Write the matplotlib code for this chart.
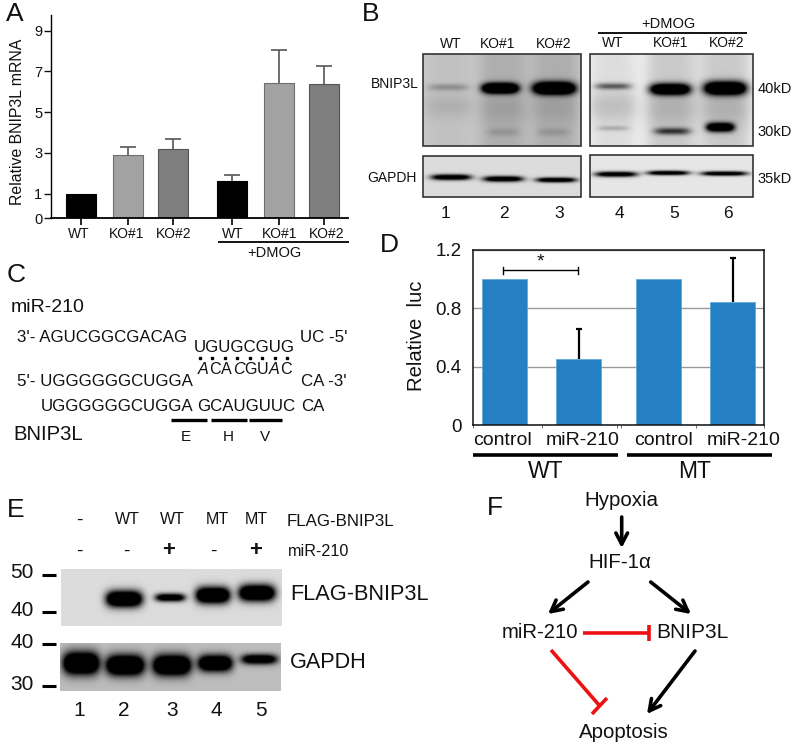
import numpy as np
import matplotlib
matplotlib.use("Agg")
import matplotlib.pyplot as plt
from matplotlib.patches import Rectangle

plt.rcParams['font.family'] = ['Liberation Sans', 'DejaVu Sans']

W, H = 796, 746
INK = '#111111'

# panel A data
a_labels = ['WT', 'KO#1', 'KO#2', 'WT', 'KO#1', 'KO#2']
a_values = [1.0, 2.9, 3.19, 1.64, 6.42, 6.37]
a_errors = [0, 0.39, 0.49, 0.28, 1.63, 0.91]
a_colors = ['#000000', '#a2a2a2', '#7e7e7e', '#000000', '#a2a2a2', '#7e7e7e']
a_ticks = [0, 1, 3, 5, 7, 9]

# panel D data
d_labels = ['control', 'miR-210', 'control', 'miR-210']
d_values = [1.0, 0.45, 1.0, 0.845]
d_errors = [0, 0.205, 0, 0.30]
d_ticks = [0, 0.4, 0.8, 1.2]
d_ticklabels = ['0', '0.4', '0.8', '1.2']

# blot bands: lane centre, half width, band centre, half height, darkness
b_top_left = [(448, 20, 87, 3.5, 0.2), (500, 18, 88, 5, 1.6), (554, 21, 88, 6, 1.6),
              (503, 16, 132, 4, 0.1), (553, 16, 132, 4, 0.1),
              (448, 25, 106, 12, 0.07), (503, 25, 108, 14, 0.06), (555, 25, 108, 14, 0.06)]
b_top_right = [(613, 18, 86, 3.2, 0.5), (670, 20, 89, 5.5, 1.5), (725, 21, 88, 6.5, 1.6),
               (613, 16, 128, 2.5, 0.18), (672, 18, 131, 3.5, 0.6), (720, 14, 127, 4.5, 1.3),
               (613, 25, 106, 16, 0.12), (671, 27, 108, 18, 0.1), (725, 27, 108, 18, 0.1)]
b_gapdh_left = [(451, 20, 177, 2.8, 1.2), (503, 20, 178.7, 2.8, 1.2), (556, 20, 179.7, 2.4, 1.2)]
b_gapdh_right = [(616, 21, 174, 2.6, 1.2), (668, 21, 172.7, 2.2, 1.2), (724, 23, 173.3, 2.2, 1.2)]
e_flag = [(124, 18, 598.7, 8, 1.6), (170, 15, 597.3, 4, 1.2), (212.7, 17, 595, 8, 1.6), (256.7, 18, 592.7, 8, 1.6)]
e_gapdh = [(81, 18, 663, 11, 1.5), (125, 19, 665, 10, 1.5), (171.7, 19, 665, 10, 1.5),
           (215, 17, 663, 8, 1.4), (259, 18, 659, 5, 1.1)]

fig = plt.figure(figsize=(W / 100, H / 100), dpi=100, facecolor='white')


def px_axes(left, top, right, bottom):
    return fig.add_axes([left / W, 1 - bottom / H, (right - left) / W, (bottom - top) / H])


# whole figure layer in pixel coordinates, for labels and the blots
ov = fig.add_axes([0, 0, 1, 1], zorder=5)
ov.set_xlim(0, W)
ov.set_ylim(H, 0)
ov.axis('off')


def t(x, y, s, size=10, ha='center', **kw):
    ov.text(x, y, s, fontsize=size, ha=ha, va='center', color=INK, **kw)


def hline(x0, x1, y, lw=1.5, color='black'):
    ov.plot([x0, x1], [y, y], color=color, lw=lw, solid_capstyle='butt')


def blot(x0, y0, x1, y1, bg, bands, smear=(), border=None):
    xx, yy = np.meshgrid(np.arange(x0, x1, 0.5), np.arange(y0, y1, 0.5))
    img = np.full(xx.shape, bg, dtype=float)
    for cx, hw, d in smear:
        img -= d * np.exp(-((xx - cx) / hw) ** 4)
    for cx, hw, cy, hh, d in bands:
        img -= d * np.exp(-((xx - cx) / hw) ** 4 - ((yy - cy) / hh) ** 2)
    ov.imshow(np.clip(img, 0, 1), cmap='gray', vmin=0, vmax=1, extent=(x0, x1, y1, y0),
              aspect='auto', interpolation='bilinear')
    if border:
        ov.add_patch(Rectangle((x0, y0), x1 - x0, y1 - y0, fill=False, ec=border, lw=1.2))


def arrow(x0, y0, x1, y1):
    ov.annotate('', xy=(x1, y1), xytext=(x0, y0),
                arrowprops=dict(arrowstyle='->,head_length=0.8,head_width=0.42', lw=2.6, color='black',
                                shrinkA=0, shrinkB=0))


def top_error(ax, x, v, e, color, lw, cap):
    # upper half only, no cap sitting on the bar
    ax.plot([x, x], [v, v + e], color=color, lw=lw, solid_capstyle='butt')
    ax.plot([x], [v + e], marker='_', ms=cap, mew=lw, color=color)


# panel letters
for x, y, s in [(15, 14, 'A'), (371, 14, 'B'), (16, 275, 'C'), (389, 245, 'D'), (16, 510, 'E'), (495, 508, 'F')]:
    t(x, y, s, 19)

# ---- A
ax = px_axes(50.5, 15, 348, 218)
ax.set_yscale('function', functions=(lambda v: np.interp(v, [0, 1, 12], [0, 1.19, 12.19]),
                                     lambda v: np.interp(v, [0, 1.19, 12.19], [0, 1, 12])))
a_x = [81, 127.7, 172.7, 232, 278.7, 324]
ax.bar(a_x, a_values, width=30, color=a_colors, edgecolor=['black', '#6e6e6e', '#555555'] * 2, lw=0.8)
for i in range(len(a_x)):
    if a_errors[i] > 0:
        top_error(ax, a_x[i], a_values[i], a_errors[i], '#555555', 1.2, 11)
ax.set_xlim(50.5, 348)
ax.set_ylim(0, 9.77)
ax.set_yticks(a_ticks)
ax.set_xticks(a_x)
ax.set_xticklabels([])
ax.tick_params(axis='y', labelsize=10.5, length=5, width=1, pad=1, colors=INK)
ax.tick_params(axis='x', length=5, width=1.2)
ax.spines['top'].set_visible(False)
ax.spines['right'].set_visible(False)
ax.spines['left'].set_linewidth(1)
ax.spines['bottom'].set_linewidth(1.3)
for x, s in zip([79, 127, 173.7, 233, 280, 327], a_labels):
    t(x, 233.5, s, 10)
t(18, 122, 'Relative BNIP3L mRNA', 11.4, rotation=90)
hline(218, 349, 241.7, 1.3)
t(274, 253, '+DMOG', 10.5)

# ---- B
blot(423, 54, 581, 146, 0.80, b_top_left,
     [(448, 26, 0.04), (503, 25, 0.12), (555, 25, 0.12)], border='#333333')
blot(590, 54, 753, 146, 0.95, b_top_right,
     [(613, 24, 0.08), (671, 26, 0.16), (725, 26, 0.16)], border='#333333')
blot(423, 156, 581, 197, 0.86, b_gapdh_left, border='#333333')
blot(590, 155, 753, 197, 0.90, b_gapdh_right, border='#333333')
for x, s in zip([451, 497.7, 554], a_labels):
    t(x, 44, s, 10)
for x, s in zip([613, 670.7, 727], a_labels):
    t(x, 43, s, 10)
t(668, 24, '+DMOG', 10.5)
hline(597.7, 746.7, 33, 1.3)
t(419, 84, 'BNIP3L', 10, ha='right')
t(417, 178, 'GAPDH', 10, ha='right')
t(757.7, 89, '40kD', 10.5, ha='left')
t(757.7, 132, '30kD', 10.5, ha='left')
t(757, 179, '35kD', 10.5, ha='left')
for x, s in zip([446, 504, 559, 619, 674, 728], '123456'):
    t(x, 213, s, 12.5)

# ---- C
t(10.7, 308, 'miR-210', 14, ha='left')
t(17, 337, "3'- AGUCGGCGACAG", 12.2, ha='left')
t(300, 337, "UC -5'", 12.2, ha='left')
t(194, 347, 'UGUGCGUG', 12.2, ha='left')
ov.plot(np.linspace(200, 287, 8), [358] * 8, ls='none', marker='s', ms=1.9, color='black')
for x, s, st in zip(np.linspace(203, 286, 8), 'ACACGUAC', ['italic', 'normal', 'normal', 'italic', 'normal', 'normal', 'italic', 'normal']):
    t(x, 370, s, 11.6, style=st)
t(17, 381, "5'- UGGGGGGCUGGA", 12.2, ha='left')
t(301, 381, "CA -3'", 12.2, ha='left')
t(40.7, 406.7, 'UGGGGGGCUGGA', 12.2, ha='left')
t(197, 406.7, 'GCAUGUUC', 12.2, ha='left')
t(301, 406.7, 'CA', 12.2, ha='left')
for x0, x1, xt, s in [(171, 207, 186, 'E'), (211, 247, 228, 'H'), (249, 282, 265, 'V')]:
    hline(x0, x1, 420, 2.4)
    t(xt, 437, s, 11)
t(13, 435, 'BNIP3L', 14.6, ha='left')

# ---- D
ax = px_axes(472.7, 249.5, 764.3, 425.3)
d_x = [504, 578.7, 658, 732.7]
ax.yaxis.grid(True, color='#999999', lw=1)
ax.set_axisbelow(True)
ax.bar(d_x, d_values, width=45, color='#2580c3', edgecolor='#5aa5da', lw=0.5)
for i in range(len(d_x)):
    if d_errors[i] > 0:
        top_error(ax, d_x[i], d_values[i], d_errors[i], 'black', 1.6, 5)
ax.set_xlim(472.7, 764.3)
ax.set_ylim(0, 1.2)
ax.set_yticks(d_ticks)
ax.set_yticklabels(d_ticklabels)
ax.set_xticks([472.7, 541.7, 616.7, 620.7, 695.7, 764.3])
ax.set_xticklabels([])
ax.tick_params(axis='y', labelsize=13.5, length=0, pad=8, colors=INK)
ax.tick_params(axis='x', length=2.5, width=0.6, color='#555555')
for sp in ax.spines.values():
    sp.set_linewidth(1.1)
    sp.set_color('#111111')
for x, s in zip([502.7, 583, 663.7, 744], d_labels):
    t(x, 440.7, s, 14)
hline(473, 618, 455, 2.6)
hline(627, 771.7, 455, 2.6)
t(546, 471, 'WT', 16.5)
t(695, 471, 'MT', 16.5)
t(416.7, 336, 'Relative  luc', 14.6, rotation=90)
hline(503.3, 578, 270, 1)
for x in [503.3, 578]:
    ov.plot([x, x], [266.5, 273.5], color='black', lw=1)
t(540, 262, '*', 14)

# ---- E
blot(61, 569, 282, 626, 0.86, e_flag, border=None)
blot(60, 643, 281, 691, 0.74, e_gapdh, border=None)
for x, s in zip([79, 127, 172, 217, 256], ['-', 'WT', 'WT', 'MT', 'MT']):
    t(x, 520, s, 14 if s == '-' else 11.5)
t(287, 521.7, 'FLAG-BNIP3L', 12.2, ha='left')
for x, s in zip([79, 126.7, 169, 213, 256], ['-', '-', '+', '-', '+']):
    t(x, 551, s, 16 if s == '+' else 14, weight='bold' if s == '+' else 'normal')
t(288, 551.7, 'miR-210', 11.6, ha='left')
for y, yt, s in [(575, 573, '50'), (611.7, 610.5, '40'), (644, 642.7, '40'), (686, 685, '30')]:
    t(34, yt, s, 15, ha='right')
    hline(41.7, 55.7, y, 2.2)
t(290.7, 595, 'FLAG-BNIP3L', 15.7, ha='left')
t(290, 662.7, 'GAPDH', 15.6, ha='left')
for x, s in zip([79, 124, 172, 216.7, 260.7], '12345'):
    t(x, 710.7, s, 15)

# ---- F
t(621, 501, 'Hypoxia', 14.8)
t(620, 563, 'HIF-1\u03b1', 14.8)
t(502, 633, 'miR-210', 14.6, ha='left')
t(656, 633, 'BNIP3L', 15, ha='left')
t(624, 733, 'Apoptosis', 14.8)
arrow(621.7, 517, 621.7, 548)
arrow(588, 582, 548, 614)
arrow(650.7, 582, 691, 614)
arrow(695, 651, 647, 714)
for xs, ys in [([583, 649], [633, 633]), ([649, 649], [625, 641]),
               ([551, 599], [650, 705]), ([607, 592], [698, 714])]:
    ov.plot(xs, ys, color='#ee1111', lw=2.6, solid_capstyle='butt')

ov.set_xlim(0, W)
ov.set_ylim(H, 0)
fig.savefig('out.png', dpi=100)
